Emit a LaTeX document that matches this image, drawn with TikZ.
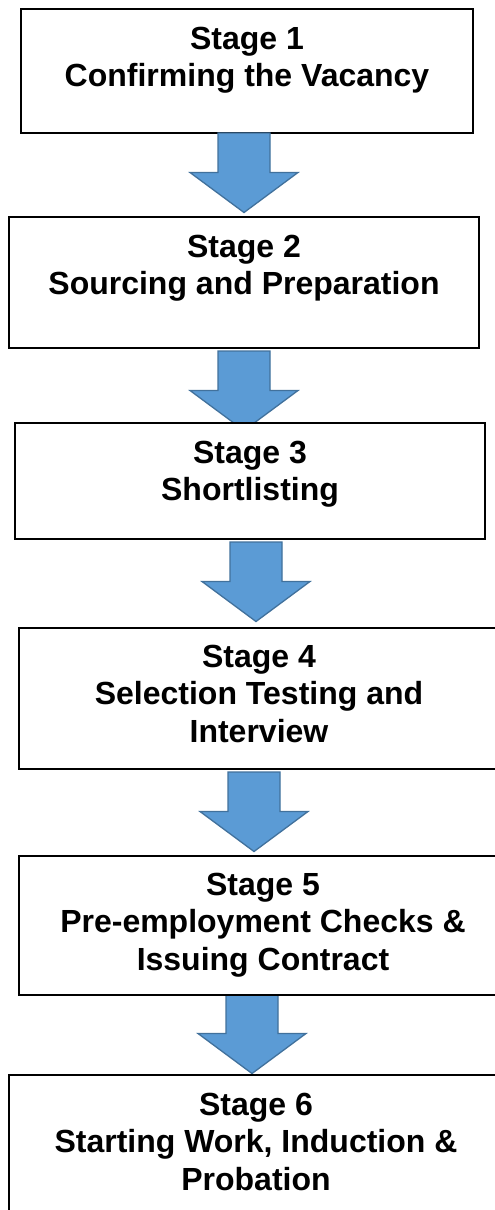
\documentclass[tikz,border=0pt]{standalone}
\usepackage{fontspec}
\setmainfont{Liberation Sans}
\usetikzlibrary{calc}

\definecolor{arrowfill}{HTML}{5B9BD5}
\definecolor{arrowline}{HTML}{41719C}

\tikzset{
  stagebox/.style={draw=black, line width=1.3pt, fill=white, rectangle,
                   inner sep=0pt, outer sep=0pt},
  stagetext/.style={anchor=north, align=center, inner sep=0pt, text=black,
                    font=\fontsize{32}{37.5}\selectfont\bfseries},
  arrowbody/.style={fill=arrowfill, draw=arrowline, line width=1.3pt, line join=miter},
  downarrow/.pic={
    \draw[arrowbody] (-26,0) -- (26,0) -- (26,39.5) -- (54,39.5) -- (0,79.5)
      -- (-54,39.5) -- (-26,39.5) -- cycle;
  }
}

\newcommand{\firstline}{\rule{0pt}{26pt}}

\begin{document}
\begin{tikzpicture}[x=1pt, y=-1pt]
  \useasboundingbox[fill=white] (0,0) rectangle (495,1210);
  \clip (0,0) rectangle (495,1210);

  % boxes (positions only; drawn after the arrows below)
  \path
    (247,71)     node[stagebox, minimum width=452pt, minimum height=124pt] (s1) {}
    (244,282.5)  node[stagebox, minimum width=470pt, minimum height=131pt, draw=none, fill=none] (s2) {}
    (250,481)    node[stagebox, minimum width=470pt, minimum height=116pt, draw=none, fill=none] (s3) {}
    (259,698.5)  node[stagebox, minimum width=480pt, minimum height=141pt, draw=none, fill=none] (s4) {}
    (263,925.5)  node[stagebox, minimum width=488pt, minimum height=139pt, draw=none, fill=none] (s5) {}
    (256,1148.5) node[stagebox, minimum width=494pt, minimum height=147pt, draw=none, fill=none] (s6) {};

  % block arrows between consecutive stages
  \pic at ($(s1.south)+(-3,0)$)   {downarrow};
  \pic at ($(s2.south)+(0,3)$)    {downarrow};
  \pic at ($(s3.south)+(6,3)$)    {downarrow};
  \pic at ($(s4.south)+(-5,3)$)   {downarrow};
  \pic at ($(s5.south)+(-11,-1)$) {downarrow};

  % stage boxes drawn on top of the arrow tips
  \foreach \b in {s2,s3,s4,s5,s6}{
    \draw[stagebox] (\b.north west) rectangle (\b.south east);
  }

  % stage labels
  \node[stagetext] (t1) at ($(s1.north)+(0,14)$) {\firstline Stage 1\\Confirming the Vacancy};
  \node[stagetext] (t2) at ($(s2.north)+(0,14)$) {\firstline Stage 2\\Sourcing and Preparation};
  \node[stagetext] (t3) at ($(s3.north)+(0,14)$) {\firstline Stage 3\\Shortlisting};
  \node[stagetext] (t4) at ($(s4.north)+(0,13)$) {\firstline Stage 4\\Selection Testing and\\Interview};
  \node[stagetext] (t5) at ($(s5.north)+(0,13)$) {\firstline Stage 5\\Pre-employment Checks \&\\Issuing Contract};
  \node[stagetext] (t6) at ($(s6.north)+(0,14)$) {\firstline Stage 6\\Starting Work, Induction \&\\Probation};
\end{tikzpicture}
\end{document}
